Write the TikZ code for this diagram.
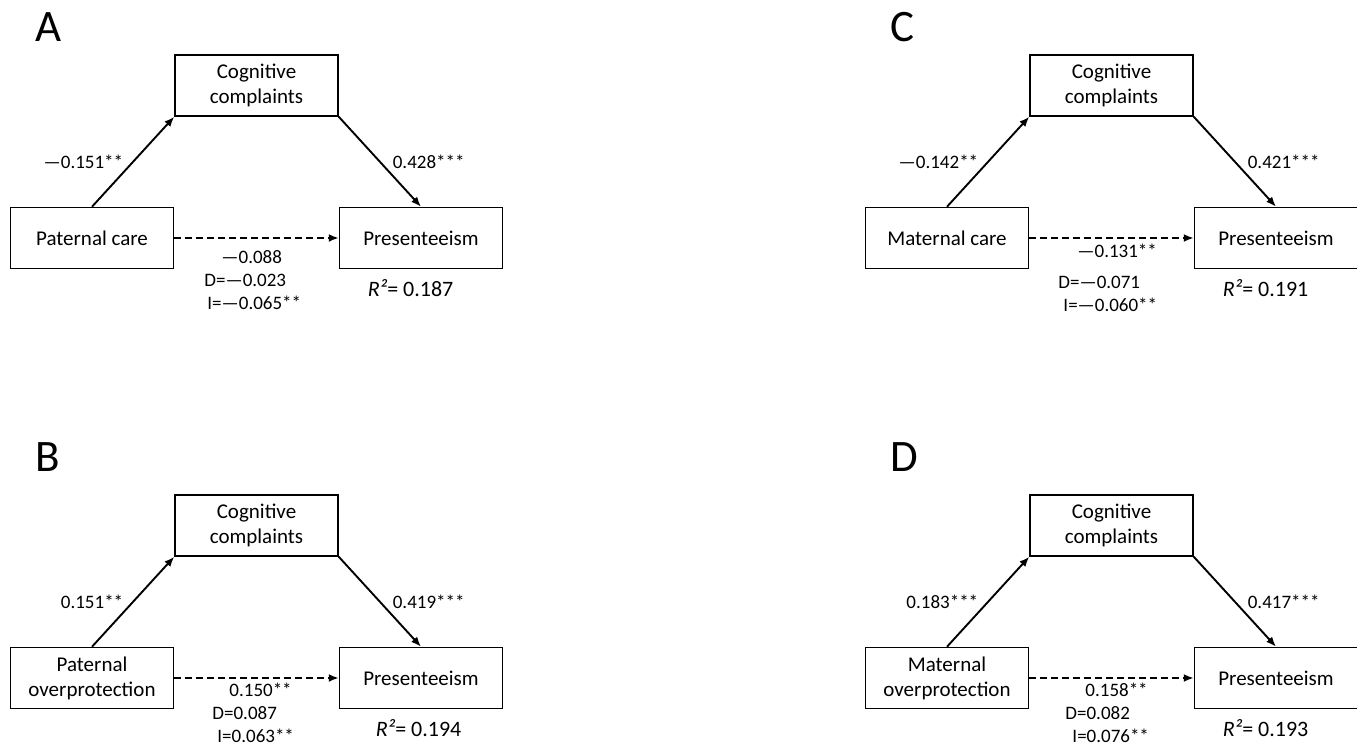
\documentclass[tikz,border=0pt]{standalone}
\usepackage{fontspec}
\setmainfont{Carlito}
\usetikzlibrary{positioning,arrows.meta}

\begin{document}
\begin{tikzpicture}[x=1pt, y=1pt,
            box/.style={draw=black, line width=1.5pt, minimum width=163pt, minimum height=61pt, inner sep=2pt, align=center, font=\fontsize{21}{25}\selectfont},
            link/.style={line width=1.9pt, -{Latex[length=10pt,width=8pt]}},
            direct/.style={link, dash pattern=on 7pt off 4pt},
            coef/.style={font=\fontsize{19}{23}\selectfont, inner sep=3pt},
            effect/.style={font=\fontsize{19}{23}\selectfont, align=left, anchor=base west, inner sep=0pt},
            rsq/.style={font=\fontsize{22}{26}\selectfont, anchor=base west, inner sep=0pt},
            letter/.style={font=\fontsize{45}{50}\selectfont, anchor=base west, inner sep=0pt},
        ]
        \useasboundingbox (0,0) rectangle (1357,746);
        % A: paternal care
        \node[letter] (letA) at (35,704) {A};
        \node[box] (cogA) at (256.5,660.5) {Cognitive\\complaints};
        \node[box, below left=90pt and 0pt of cogA] (careA) {Paternal care};
        \node[box, below right=90pt and 0pt of cogA] (presA) {Presenteeism};
        \draw[link] (careA.north) -- (cogA.south west) node[coef, pos=.5, left=6pt] {\textemdash0.151**};
        \draw[link] (cogA.south east) -- (presA.north) node[coef, pos=.5, right=9pt] {0.428***};
        \draw[direct] (careA.east) -- (presA.west);
        \node[effect] (effA) at ([xshift=30pt,yshift=-71.5pt]careA.east) {\hspace*{17pt}\textemdash0.088\\D=\textemdash0.023\\\hspace*{3pt}I=\textemdash0.065**};
        \node[rsq] (rsqA) at ([xshift=29pt,yshift=-27pt]presA.south west) {\textit{R²}= 0.187};
        % B: paternal overprotection
        \begin{scope}[shift={(0,-440)}]
            \node[letter] (letB) at (35,714) {B};
            \node[box] (cogB) at (256.5,660.5) {Cognitive\\complaints};
            \node[box, below left=90pt and 0pt of cogB] (protB) {Paternal\\overprotection};
            \node[box, below right=90pt and 0pt of cogB] (presB) {Presenteeism};
            \draw[link] (protB.north) -- (cogB.south west) node[coef, pos=.5, left=6pt] {0.151**};
            \draw[link] (cogB.south east) -- (presB.north) node[coef, pos=.5, right=9pt] {0.419***};
            \draw[direct] (protB.east) -- (presB.west);
            \node[effect] (effB) at ([xshift=38pt,yshift=-65pt]protB.east) {\hspace*{17pt}0.150**\\D=0.087\\\hspace*{5pt}I=0.063**};
            \node[rsq] (rsqB) at ([xshift=37pt,yshift=-27pt]presB.south west) {\textit{R²}= 0.194};
        \end{scope}
        % C: maternal care
        \begin{scope}[shift={(855,0)}]
            \node[letter] (letC) at (35,704) {C};
            \node[box] (cogC) at (256.5,660.5) {Cognitive\\complaints};
            \node[box, below left=90pt and 0pt of cogC] (careC) {Maternal care};
            \node[box, below right=90pt and 0pt of cogC] (presC) {Presenteeism};
            \draw[link] (careC.north) -- (cogC.south west) node[coef, pos=.5, left=6pt] {\textemdash0.142**};
            \draw[link] (cogC.south east) -- (presC.north) node[coef, pos=.5, right=9pt] {0.421***};
            \draw[direct] (careC.east) -- (presC.west);
            \node[effect] (effC) at ([xshift=29pt,yshift=-74pt]careC.east) {\hspace*{19pt}\textemdash0.131**\\[8pt]D=\textemdash0.071\\\hspace*{5pt}I=\textemdash0.060**};
            \node[rsq] (rsqC) at ([xshift=29pt,yshift=-27pt]presC.south west) {\textit{R²}= 0.191};
        \end{scope}
        % D: maternal overprotection
        \begin{scope}[shift={(855,-440)}]
            \node[letter] (letD) at (35,714) {D};
            \node[box] (cogD) at (256.5,660.5) {Cognitive\\complaints};
            \node[box, below left=90pt and 0pt of cogD] (protD) {Maternal\\overprotection};
            \node[box, below right=90pt and 0pt of cogD] (presD) {Presenteeism};
            \draw[link] (protD.north) -- (cogD.south west) node[coef, pos=.5, left=6pt] {0.183***};
            \draw[link] (cogD.south east) -- (presD.north) node[coef, pos=.5, right=9pt] {0.417***};
            \draw[direct] (protD.east) -- (presD.west);
            \node[effect] (effD) at ([xshift=36pt,yshift=-65pt]protD.east) {\hspace*{20pt}0.158**\\D=0.082\\\hspace*{7pt}I=0.076**};
            \node[rsq] (rsqD) at ([xshift=29pt,yshift=-27pt]presD.south west) {\textit{R²}= 0.193};
        \end{scope}
    \end{tikzpicture}
\end{document}
